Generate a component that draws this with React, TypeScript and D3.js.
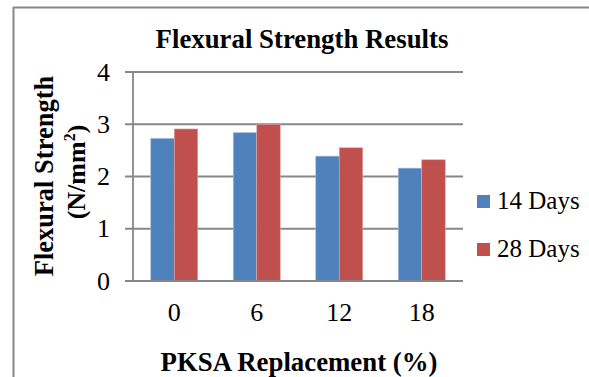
import React from "react";
import * as d3 from "d3";

const categories = ["0", "6", "12", "18"];
const seriesNames = ["14 Days", "28 Days"];
const days14 = [2.73, 2.84, 2.39, 2.16];
const days28 = [2.91, 3.0, 2.55, 2.32];
const yTicks = [0, 1, 2, 3, 4];
const colors = ["#4F81BD", "#C0504D"];

const W = 589;
const H = 377;
const FONT = "'Liberation Serif', 'Times New Roman', serif";

export default function App() {
  const left = 133, right = 463, top = 72, bottom = 281;
  const x = d3.scaleBand<string>().domain(categories).range([left, right]).padding(0);
  const xs = d3
    .scaleBand<string>()
    .domain(seriesNames)
    .range([0, x.bandwidth()])
    .paddingInner(0)
    .paddingOuter(0.755);
  const y = d3.scaleLinear().domain([0, 4]).range([bottom, top]);
  const series = [days14, days28];
  const grid = "#878787";

  return (
    <svg
      width={W}
      height={H}
      style={{ position: "absolute", left: 0, top: 0, background: "#fff" }}
      fontFamily={FONT}
    >
      <rect x={0} y={0} width={W} height={H} fill="#fff" />
      {/* frame */}
      <line x1={13} y1={7.5} x2={W} y2={7.5} stroke={grid} strokeWidth={2} />
      <line x1={13.5} y1={7} x2={13.5} y2={H} stroke={grid} strokeWidth={2} />

      {/* title */}
      <text x={302} y={48} textAnchor="middle" fontSize={26.8} fontWeight="bold" fill="#000">
        Flexural Strength Results
      </text>

      {/* gridlines */}
      {yTicks.map((t) => (
        <line key={t} x1={left - 8} x2={right} y1={y(t)} y2={y(t)} stroke={grid} strokeWidth={1.8} />
      ))}
      <line x1={left} x2={left} y1={top} y2={bottom} stroke={grid} strokeWidth={1.8} />

      {/* bars */}
      {series.map((vals, si) =>
        categories.map((c, ci) => (
          <rect
            key={si + "-" + ci}
            x={(x(c) as number) + (xs(seriesNames[si]) as number)}
            y={y(vals[ci])}
            width={xs.bandwidth()}
            height={bottom - y(vals[ci])}
            fill={colors[si]}
            stroke={si === 0 ? "#a9c0de" : "#e0a8a6"}
            strokeWidth={0.6}
          />
        ))
      )}
      <line x1={left - 8} x2={right} y1={y(0)} y2={y(0)} stroke={grid} strokeWidth={1.8} />

      {/* y tick labels */}
      {yTicks.map((t) => (
        <text key={t} x={110} y={y(t)} dy="0.33em" textAnchor="end" fontSize={26} fill="#000">
          {t}
        </text>
      ))}

      {/* x tick labels */}
      {categories.map((c) => (
        <text
          key={c}
          x={(x(c) as number) + x.bandwidth() / 2}
          y={321}
          textAnchor="middle"
          fontSize={26}
          fill="#000"
        >
          {c}
        </text>
      ))}

      {/* y title */}
      <text
        transform="translate(53,176) rotate(-90)"
        textAnchor="middle"
        fontSize={26.5}
        fontWeight="bold"
        fill="#000"
      >
        Flexural Strength
      </text>
      <text
        transform="translate(85,172) rotate(-90)"
        textAnchor="middle"
        fontSize={26}
        fontWeight="bold"
        fill="#000"
      >
        (N/mm<tspan fontSize={16} dy={-10}>2</tspan>
        <tspan dy={10}>)</tspan>
      </text>

      {/* x title */}
      <text x={299} y={371} textAnchor="middle" fontSize={26.8} fontWeight="bold" fill="#000">
        PKSA Replacement (%)
      </text>

      {/* legend */}
      {seriesNames.map((s, i) => (
        <g key={s}>
          <rect x={477} y={195 + i * 48} width={13} height={13} fill={colors[i]} />
          <text x={497} y={208.5 + i * 48} fontSize={25} fill="#000">
            {s}
          </text>
        </g>
      ))}
    </svg>
  );
}
